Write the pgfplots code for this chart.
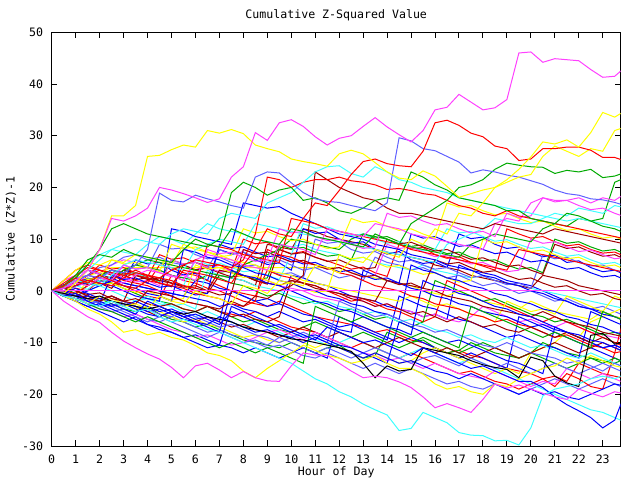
\documentclass[border=0pt]{standalone}
\usepackage{pgfplots}
\pgfplotsset{compat=1.18}
\usepackage{fontspec}
\setmainfont{DejaVu Sans Mono}
\definecolor{gred}{RGB}{255,0,0}
\definecolor{ggreen}{RGB}{0,170,0}
\definecolor{gblue}{RGB}{0,0,255}
\definecolor{gmag}{RGB}{255,64,255}
\definecolor{gcyan}{RGB}{64,255,255}
\definecolor{gyel}{RGB}{255,255,0}
\definecolor{gdred}{RGB}{160,0,0}
\definecolor{gslate}{RGB}{96,96,255}
\definecolor{gblack}{RGB}{0,0,0}
\newcommand\gfont{\fontsize{11.6bp}{13bp}\selectfont}
% one series: y values every half hour from 0 h
\newcommand\ser[2]{%
  \gdef\pts{}%
  \foreach \v [count=\i from 0] in {#2}{%
    \pgfmathsetmacro\xx{\i*0.5}%
    \xdef\pts{\pts(\xx,\v)}%
  }%
  \edef\cmd{\noexpand\addplot[\unexpanded{#1}] coordinates {\pts};}%
  \cmd
}
\begin{document}
\begin{tikzpicture}
\path[use as bounding box] (-51.7bp,-34bp) rectangle (588.3bp,446bp);
\begin{axis}[
  at={(0,0)}, anchor=south west, scale only axis,
  width=569bp, height=413.7bp,
  xmin=0, xmax=23.75, ymin=-30, ymax=50,
  xtick={0,1,...,23}, ytick={-30,-20,...,50},
  yticklabels={-30,-20,-10,0,10,20,30,40,50},
  /pgf/number format/assume math mode=true,
  tick align=inside, major tick length=5.7bp,
  tick style={black, line width=1bp},
  axis line style={black, line width=1bp},
  tick label style={font=\gfont},
  xticklabel style={inner sep=0pt, anchor=north, yshift=-8.8bp},
  yticklabel style={inner sep=0pt, anchor=east, xshift=-8.4bp},
  every axis plot/.append style={line width=1bp, mark=none, line join=miter},
]
\ser{gred}{0,1,0.5,0,2,1.5,1,0,-1,-1.5,3,2,1.5,0.5,0,-1,-2,-2.5,-3,-2,-3,-4,-5,-5.5,-6,-6.5,-7,-8,-7.5,-8.5,-9.5,-10,-11,-12,-11.5,-12.5,-13,-14,-15,-15.5,-16,-17,-16.5,-17.5,-14,-15,-16,-16.5,-17}
\ser{ggreen}{0,-0.5,-1,-2,-1.5,-2.5,-3.5,-4,-3,-4.5,-5.5,-6,-7,-6.5,-7.5,-8.5,-9.5,-10,-10.5,-11,-10,-11,-12,-11,-10.5,-12,-13,-12.5,-8,-9,-10,-9.5,-11,-12,-11.5,-10,-11,-12,-12.5,-13,-12,-10,-11,-12,-12.5,-13,-13.5,-14,-13}
\ser{gblue}{0,0.5,1,2,3,2.5,1.5,1,0.5,0,-0.5,-1,2,1.5,0.5,0,-1,-2,-1.5,-2.5,3,2.5,1.5,1,0,-1,-1.5,-2,-3,-3.5,-4,-5,-4.5,-5.5,5,4,3.5,3,2,1.5,1,0,-1,-2,-3,-3.5,-4,-5,-5.5}
\ser{gmag}{0,2,3,4,3.5,5,6,5.5,4.5,4,3,2.5,4,5,4.5,4,3,2.5,2,1,0.5,0,-1,-1.5,-2,-1,-2,-3,-2.5,-3.5,-4,-5,-4.5,-5.5,-6,-5,-3,-4,-5,-6,-5.5,-6.5,-7,-6,-7,-8,-8.5,-9,-9.5}
\ser{gcyan}{0,1,3,5,7,8,7.5,7,9,10.5,10,9,11,13,12,11.5,11,10,9.5,9,8.5,9,8,7.5,7,6,6.5,5.5,5,4.5,4,5,4,3.5,3,2.5,3,2,1.5,1,0.5,0,-0.5,-1,-1.5,-2,-2.5,-3,-3.5}
\ser{gyel}{0,0.5,1.5,3,3.5,4.5,4.5,4.5,4.5,4.5,4.5,4.5,4.5,4.5,4.5,4.5,4.5,4.5,4.5,4.5,4.5,4.5,4.5,4.5,4.5,3.5,3,2.5,2,1.5,1,0,-0.5,-1,0,-1,-2,-2.5,-3,-3.5,-2,-3,-4,-4.5,-5,-5.5,-4,-5,-5.5}
\ser{gdred}{0,1,2,1.5,3,2.5,4,3.5,3,2,1.5,1,0,-0.5,3,2.5,2,1,9,8.5,8,12,11.5,10.5,10,9.5,9,8,7.5,7,6.5,6,5,4.5,4,3,2.5,2,1.5,1,0.5,3,2.5,2,1,0.5,0,-0.5,-1}
\ser{gslate}{0,-0.5,-1.5,-2,-3,-4,-3.5,-4.5,-5.5,-6,-5,-6,-7,-8,-7.5,-8.5,-9,-10,-11,-10.5,-11.5,-12.5,-13,-12,-13,-14,-15,-14,-15,-16,-15,-16,-17,-18,-17.5,-18.5,-19,-18,-19,-20,-19,-18,-17,-18,-19,-18,-17,-18,-19}
\ser{gblue}{0,-1,-2,-3,-4,-5,-6,-5,-6.5,-7.5,-8,-9,-8.5,-9.5,-10.5,-11,-12,-11,-12,-13,-12,-11,-12,-13,-5,-6,-7,-8,-9,-10,-9,-10,-11,-12,-13,-12,-13,-14,-15,-5,-6,-7,-8,-9,-10,-11,-12,-13,-14}
\ser{gblue}{0,1.2,2,4,3.2,3.5,2.1,6,5.2,5.5,4,3.1,3.4,2,8,7.2,7.5,6,5.1,5.4,4,12,11.1,11.4,10,9.2,9.5,8,7.1,7.6,6,5.3,5.6,4.5,11,10.1,10.4,9,8.2,8.5,7.5,6.6,6.9,5.5,5.8,4.5,3.7,4,3}
\ser{gred}{0,0.8,1.5,3,5,4.2,4.5,3.5,2.7,7,6.1,6.4,5.5,4.8,5,4,10,9.1,9.4,8,7.2,7.6,6.5,5.8,5,4.2,4.6,3.5,2.8,9,8.1,8.4,7,6.3,6.6,5.5,4.8,4,12,11,10.2,10.5,9.5,8.7,9,8,7.3,7.5,6.5}
\ser{gred}{0,0.5,1,3,4,3,2,1.5,1,0,-1,-2,-2.5,-3,-4,-4.5,-5,-4,-5,-6,-7,-7.5,-8,-9,-10,-11,-10,-11,-12,-13,-12,-13,-14,-15,-16,-15.5,-16.5,-17.5,-18,-19,-18,-17,-18.5,-16,-17,-18.5,-19,-12,-3}
\ser{ggreen}{0,0.5,-0.5,1,2,1.5,0.5,-0.5,-1.5,-2,-2.5,-3.5,-4,-3,-4,-5,-6,-5.5,-6.5,-7.5,-8,-7,-6,-7,-8,-9,-8,-9,-10,-11,-10,-9,-10,-11,-12,-11,-10,-11,-12,-13,-12,-13,-14,-15,-14,-13,-14,-13,-14}
\ser{gslate}{0,-0.7,1,2.5,1.8,2.1,5,4.2,4.5,9,8.1,8.3,7,6.2,6.5,5.5,4.7,5,4,3.2,3.5,2.5,10,9.2,9.5,8,7.3,7.6,6.5,5.6,5.9,5,4.2,4.5,3.5,2.6,2.9,2,1.2,1.5,0.5,7,6.2,6.5,5.5,4.8,5,4,3.5}
\ser{gcyan}{0,-0.5,-1,0,1,0,-1,-2,-1.5,-2.5,-3,-4,-5,-4,-5,-6,-7,-6,-7,-8,-9,-8.5,-9.5,-10.5,-10,-9,-10,-11,-12,-13,-12,-11,-12,-13,-14,-13,-14,-15,-16,-17,-18,-19,-20,-21,-22,-23,-23.5,-24.5,-25.5}
\ser{ggreen}{0,1,3,2.2,2.5,4,3.2,3.5,2.5,1.8,6,5.2,5.5,4.5,3.6,3.9,3,2.2,2.5,9,8.1,8.4,7.5,6.7,7,6,11,10.2,10.5,9.5,8.6,8.9,8,7.2,7.5,6.5,5.8,6,5,4.2,4.5,3.5,10,9.2,9.5,8.5,7.7,8,7}
\ser{gslate}{0,1,2.5,3,4.5,5,6.5,7,6,6.5,5.5,5,4,4.5,8,7,7.5,6.5,5.5,6,5,4,4.5,3.5,2.5,3,2,6.5,5.5,5,4,4.5,3.5,2.5,3,2,1,1.5,0.5,-0.5,0,-1,-2,-1.5,-2.5,-3.5,-3,-4,-5}
\ser{gyel}{0,1,0,-1,-2,-1.5,-2.5,-3.5,-3,-4,-5,-6,-5.5,-6.5,-7,-8,-9,-8.5,-9.5,-10,-9,-10,-11,-10,-11,-12,-13,-12,-13,-14,-13.5,-12,-11,-12,-13,-14,-15,-16,-15,-16,-12,-11,-10,-8,-9,-6,-5,-4,-3}
\ser{gcyan}{0,0.5,1,0.3,2,4,3.2,3.5,2.5,1.7,2,1,6,5.1,5.4,4.5,3.7,4,3,2.2,7,13,12.1,12.4,11.5,10.7,11,10,9.2,9.5,8.5,7.7,8,12,11.2,11.5,10.5,9.6,9.9,9,8.2,8.5,7.5,6.7,7,6,5.2,5.5,4.5}
\ser{gdred}{0,-0.5,-1,-1.5,-2.5,-3,-2,-3,-4,-5,-4,-5,-6,-5,-6,-7,-6.5,-7.5,-8,-9,-8,-7,-8,-9,-8,-9,-10,-11,-10,-9,-10,-11,-12,-11,-12,-13,-12,-11,-12,-13,-12,-11,-10,-11,-12,-11,-10,-11,-12}
\ser{gblue}{0,0,-1,-1.5,-2,-1,-2,-3,-4,-3.5,-4.5,-5.5,-6,-7,-8,0,-1,-2,-3,-2.5,-3.5,-4.5,-5,-6,-7,-6.5,-7.5,-8.5,-9.5,-1,-2,-3,-3.5,-4.5,-5.5,-6,-7,-8,-9,-8.5,-9.5,-10.5,-11,-12,-13,-4,-5,-6,-7}
\ser{gdred}{0,1,2,1.2,1.5,0.5,3,2.2,2.5,1.5,0.8,5,4.1,4.4,3.5,2.7,3,2,1.3,8,7.1,7.4,6.5,5.7,6,5,4.2,4.5,10,9.1,9.4,8.5,7.7,8,7,6.1,6.4,5.5,4.7,5,4,3.2,9,8.2,8.5,7.5,6.7,7,6}
\ser{gred}{0,2,4,5,4,3.5,3,2,1.5,5,4.5,3.5,3,2,1,0,-0.5,-1,4,3,2.5,1.5,1,0,-1,-2,-1.5,-2.5,-3.5,-4,-5,-6,-5,2,1,0,-1,-2,-3,-4,-5,-6,-5,-6,-7,-8,-9,-10,-11}
\ser{ggreen}{0,1,1.5,3,2.5,2,4,5,4.5,4,3,2.5,2,3,2.5,1.5,1,0,-1,-0.5,-1.5,-2.5,-2,-3,-4,-3.5,-4.5,-5.5,-5,-6,-7,-6,2,1,0,-1,-2,-1.5,-2.5,-3.5,-4.5,-5,-6,-5.5,-6.5,-7.5,-8.5,-8,-9}
\ser{gmag}{0,-1,-1.5,-2.5,-3.5,-4,-5,-4.5,-5.5,-6.5,-7.5,-8,-9,-8.5,-9.5,-10.5,-10,-9,-8,-7.5,-8.5,-9.5,-8,-9,-10,-11,-12,-12.5,-13.5,-13,-14,-15,-14,-15,-16,-16.5,-17,-15.5,-16.5,-17.5,-18.5,-17.5,-18,-15,-16,-17,-16,-17,-18}
\ser{gmag}{0,1,2,4,3.2,3.5,2.5,1.7,2,1,6,5.2,5.5,4.5,3.7,4,8,7.2,7.5,6.5,5.6,5.9,5,4.2,4.5,3.5,2.7,3,9,8.2,8.5,7.5,6.6,6.9,6,5.2,5.5,4.5,3.7,4,10,9.2,9.5,8.5,7.6,7.9,7,6.2,6.5}
\ser{gcyan}{0,-1,-0.5,-1.5,-2.5,-2,-3,-2,-1,-2,-3,-2.5,-3.5,4,3,2.5,2,1,0.5,0,-1,-1.5,-2.5,-2,-3,-3.5,-4.5,-4,-5,-6,-5.5,-6.5,-7.5,-8,-9,-8.5,-9.5,-10,-9,-10,-11,-10.5,-11.5,-12.5,-13,-12,-13,-14,-15}
\ser{gyel}{0,2,4,5.5,5,6,5.5,7,6.5,6,5,9,8,7.5,7,6,5.5,5,4,3.5,3,2,1.5,1,0.5,0,-0.5,-1,-1.5,-2,-1,-2,-3,-2.5,-3.5,-4.5,-5,-6,-2,-3,-4,-3.5,-4.5,-1,-2,-3,-4,-1,-2}
\ser{gblue}{0,-1,-1.5,-0.8,-2.5,3,2.2,2.5,1.5,0.7,1,0,-0.8,-0.5,9,8.2,8.5,7.5,6.6,6.9,6,5.2,5.5,4.5,3.7,4,3,2.2,2.5,1.5,11,10.2,10.5,9.5,8.6,8.9,8,7.2,7.5,6.5,5.6,5.9,5,4.2,4.5,3.5,2.7,3,2}
\ser{gdred}{0,0.5,1.5,2,3,4,3.5,3,2.5,2,1.5,1,0.5,0,4,3.5,3,2,1.5,1,2,1.5,0.5,0,-0.5,-1,-1.5,-2,2,1.5,1,0.5,0,-1,-1.5,-2,-3,-3.5,-4,-4.5,-5,-4,-5,-6,-6.5,-7,-8,-8.5,-9}
\ser{gslate}{0,-0.5,-1.5,-2.5,-2,-3,-4,-5,-6,-5,-6,-7,-8,-9,-8,-9,-10,-9.5,-10.5,-9,-10,-11,-12,-11,-12,-13,-12,-11,-12,-13,-14,-13,-12.5,-13.5,-14.5,-13,-14,-15,-14,-15,-16,-15,-14,-15,-16,-15,-14,-15,-16}
\ser{gyel}{0,-0.5,-1,2,1.2,1.5,0.5,-0.3,0,-1,-1.8,-1.5,5,4.2,4.5,3.5,2.6,2.9,2,1.2,1.5,0.5,-0.3,0,7,6.2,6.5,5.5,4.6,4.9,4,3.2,3.5,2.5,1.7,2,10,9.2,9.5,8.5,7.6,7.9,7,6.2,6.5,5.5,4.7,5,4}
\ser{gblue}{0,0.5,1,1.5,1,2,1.5,1,0.5,0,-0.5,-1,-1.5,-2,-3,-2.5,-3.5,-4,-5,-4,-5,-6,-5.5,-6.5,-7.5,-8,4,3,2,1.5,0.5,0,-1,-1.5,-2.5,-3,-4,-4.5,-5,-6,-7,-6.5,-7.5,-8,-9,-10,-11,-10.5,-11.5}
\ser{gred}{0,0,-0.5,1,2.5,2,3.5,3,2.5,1.5,1,0.5,-0.5,-1,-1.5,-2.5,-3,-2,8,7,6.5,5.5,5,4.5,3.5,3,2,1,0.5,0,-1,-1.5,-2.5,-3,-3.5,-4.5,-5,-6,-5.5,-6.5,-7,-8,-9,-8.5,-9.5,-10.5,-11,-12,-11.5}
\ser{gdred}{0,0.5,0,-0.7,-0.4,-1.5,-2,3,2.2,2.5,1.5,0.7,1,0,-0.8,-0.5,8,7.2,7.5,6.5,5.6,5.9,5,4.2,4.5,3.5,2.7,3,2,1.2,1.5,0.5,6,5.2,5.5,4.5,3.6,3.9,3,2.2,2.5,1.5,0.7,1,0,-0.8,-0.5,-1.5,-2}
\ser{ggreen}{0,1,2,1.5,3,4,3.5,5,6,5.5,5,4.5,4,3.5,3,2.5,5,6,7,8,10,9.5,9,8.5,8,10,11,10.5,10,9,8.5,8,7.5,7,6.5,9,10,11,10.5,10,9.5,12,13,12.5,14,13.5,14,21,22}
\ser{gblue}{0,-0.5,-1,0,1,2,1,0.5,-0.5,-1,-2,8,7.5,6.5,6,5,4.5,3.5,3,2,1.5,0.5,0,-1,-1.5,-2.5,-3,-4,-4.5,-5.5,5,4,3.5,2.5,2,1,0.5,-0.5,-1,-2,-2.5,-3.5,-4,-5,-5.5,-6.5,-7,-8,-8.5}
\ser{gslate}{0,-1,-2,-1.5,-2.5,-3,-2,-3,-3.5,-4.5,-5,-4,-5,-6,-7,-6.5,-7.5,-8.5,-9,-10,-9,-8,-9,-10,-2,-3,-4,-5,-4.5,-5.5,-6.5,-7,-8,-7.5,-8.5,-9.5,-10.5,-11,-10,-11,-12,-12.5,-13,-14,-13.5,-14.5,-15.5,-14,-15}
\ser{gblue}{0,1,3,2,1.5,1,0,-1,-1.5,-2,12,11.5,10.5,10,9.5,9,17,16.5,16,16.3,15,14,13,12,11,10.5,10,9,8.5,8,7,6.5,6,5,4.5,4,3,2.5,1.5,1,0,-0.5,-1.5,-2,-3,-3.5,-4.5,-5,-6}
\ser{gyel}{0,1,3,2.2,2.5,6,5.2,5.5,4.5,3.7,9,8.2,8.5,7.5,6.6,6.9,12,11.2,11.5,10.5,9.7,10,9,8.2,8.5,14,13.2,13.5,12.5,11.7,12,11,10.2,17,16.2,16.5,15.5,14.7,15,14,13.2,13.5,12.5,11.7,12,11,10.2,10.5,9.5}
\ser{gred}{0,1.5,3,4.5,4,3.5,3,4,3,2.5,2,1,0.5,9,8.5,8,7,6.5,6,5.5,14,13.5,13,12,11.5,11,10.5,10,9.5,9,8,7.5,7,6.5,6,5.5,5,4.5,4,8,7.5,7,6.5,6,5.5,5,4.5,4,3.5}
\ser{gcyan}{0,0.5,2,1.5,1,3,5,6,5.5,5,4.5,4,8,9,10,9.5,9,13,12.5,12,11.5,11,10.5,10,9.5,9,8.5,8,7.5,7,6.5,6,5.5,9,10,11,12,14,13.5,13,13,14,15,14.5,16,15.5,15,16.5,16}
\ser{gblue}{0,-1,-2,-3,-2.5,-3.5,-4.5,-5.5,-6.5,-7,-8,-9,-10,-11,-10.5,-3,-4,-5,-6,-7,-8,-9,-8.5,-9.5,-10.5,-11,-12,-13,-14,-6,-7,-8,-9,-10,-9.5,-10.5,-11.5,-12.5,-13.5,-14,-15,-16,-7,-8,-9,-10,-11,-10.5,-11.5}
\ser{gdred}{0,0.5,0,-1,-1.5,-1,-2,-1.5,-2.5,-3,-2.5,-3.5,-4,-3,-4,-5,-4.5,-5.5,-6,-5,2,1.5,1,0,-0.5,-1.5,-2,-3,-2.5,-3.5,-4.5,-4,-5,-6,-5,-6,-7,-6.5,-7.5,-8,-7,-8,-9,-8,-9,-10,-9,-10,-10.5}
\ser{ggreen}{0,-1,-1.5,-2.5,-3.5,-4,-5,-6,-5,-6,-7,-8,-9,-10,-11,-10,-11,-12,-11,-12,-13,-14,-3,-4,-5,-6,-5,-6,-7,-8,-9,-8,-9,-10,-11,-3,-4,-5,-6,-7,-8,-9,-8,-9,-10,-11,-4,-5,-6}
\ser{gblue}{0,-0.5,0.5,-0.5,-1.5,-2,-3,-2,-3,-4,-3.5,-4.5,-5.5,-5,-6,4,3,2.5,1.5,1,0,-1,-2,-2.5,-3.5,-4,-5,-6,-7,-7.5,-8.5,2,1,0.5,-0.5,-1,-2,-3,-3.5,-4.5,-5,-6,-7,-8,-8.5,-9.5,-10,-11,-12}
\ser{gmag}{0,0.5,1.5,1,2.5,2,5,4.2,4.5,3.5,2.7,3,2,8,7.2,7.5,6.5,5.7,6,12,11.2,11.5,10.5,9.7,10,9,8.2,8.5,15,14.2,14.5,13.5,12.7,13,12,11.2,11.5,10.5,15,14.2,14.5,18,17.2,17.5,16.5,15.7,16,15,14.2}
\ser{gmag}{0,0.5,1.5,3,2.5,2,1.5,3,4,3.5,3,2,6,7,6.5,6,5,4.5,4,9,8.5,8,7,12,11.5,11,10.5,13,12.5,12,11,10.5,10,9.5,9,8.5,8,13,14,13.5,17,18,17.5,17.5,18,17,18,17.5,19}
\ser{gblue}{0,-1,-1.5,-1,-2,-3,-2.5,-3.5,-4.5,-5,-4,-5,-6,-6.5,-5,-6,-7,-8,-7.5,-8.5,-9,-10,-9,-10,-11,-12,-13,-12,-13,-14,-13.5,-14.5,-15.5,-16,-17,-16,-17,-18,-19,-20,-19,-20,-19.5,-20.5,-21,-20,-19,-18,-18.5}
\ser{gmag}{0,0,0,0,0,0,0,0,0,0,0,0,0,0,0,0,0,0,0,0,0,0,0,0,0,0,0,0,0,0,0,0,0,0,0,0,0,0,0,0,0,0,0,0,0,0,0,0,0}
% prominent series
\ser{gdred}{0,-1,-0.5,-1.5,-2,-1,-2,-2.5,0,-0.5,-1,-2,-2.5,-3,-3.5,-2,-3,-1,-1.5,0,1,3,23,21.5,20,19,18,17.5,16,15,15,14.5,14,13.5,13,12.5,12,13,12.5,12,11.5,11,12,11.5,11,10.5,10,9.5,9}
\ser{gred}{0,0.5,1,2,1.5,1,2.5,3.5,3,2.5,4,5,6,5.5,5,4.5,6,11,22,21.5,20,21,21.5,21.5,22,21.3,21,20.5,19.6,19.8,19.4,18.8,18.5,17.5,16.5,16,15,14.5,15.5,14.5,14,13.5,13,12.5,12,11.5,11,10.5,10}
\ser{gcyan}{0,1,2,4,6,8,9,10,9.5,9,11,12,11.5,11,14,15,14.5,14,17,18,19,21,23,24,24.2,22.7,22,24,23,21.5,21,20,19.5,19,18,17.5,17,16.5,16,15.5,15,14.5,14,13.5,14,13.5,13,12.5,12}
\ser{ggreen}{0,1,2.5,5,8,12,13,12,11,10.5,10,9.5,9,8.5,10,19,21,20,18.5,19.5,20,17.5,18,17,15.5,15,16,17.5,18,17.5,23,22,20.5,19.5,18,17.5,17,16.5,15.5,15.5,14,13.5,13,15,14.5,13.5,12.5,12,11}
\ser{ggreen}{0,1,3,6,7,6.5,8,7,6.5,6,5.5,8,10,9,8.5,12,11,10,9.5,9,12,11.5,10.5,10,9.5,9,8.5,11,10,9,13,14.5,16,17.5,20,20.5,21.5,23.5,24.7,24.3,24,23.9,22.7,23.3,23,23.5,21.9,22.2,23}
\ser{gslate}{0,0.5,2,3,2.5,4,3.5,5,8,18.9,17.5,17.2,18.5,17.8,17.2,16.5,16,22,23,22.8,20.9,19,17.8,17.3,17.1,16.5,16,15.5,17,29.6,29,27.5,27.1,26,24.9,22.8,23.4,23,22.4,22,21.3,20.6,19.5,18.8,18.5,17.8,17.6,17.1,16.4}
\ser{gyel}{0,-1,-1.5,-2.5,-1,-2,-3,-2.5,-3.5,-1,-2,-2.5,0,-1,-1.5,-2.5,1,0.5,-0.5,2,1.5,1,5,4.5,3.5,6,5.5,8,7.2,6.5,10,9,12,11,15,14.5,17,20,21,22,22.5,26,28,27,26,27.5,27,31,31.8}
\ser{gred}{0,1,2.5,1.5,3,2,1,0.5,2,1.5,1,4,3.5,3,2.2,1.5,5,8,12,11,10.5,14,17,16.5,19.4,22.5,25,25.5,24.6,24.2,24,27,32.5,33,32,30.5,29.8,28,27.5,25.2,25.5,27.5,27.5,27.8,27.8,27.2,25.8,25.8,25}
\ser{gyel}{0,-0.5,1.5,4,8,14.5,14.5,16.5,26,26.2,27.3,28.2,27.8,31,30.5,31.2,30.4,28.2,27.5,26.9,25.5,25,24.6,24.1,26.5,27.2,26.5,24.8,23,21.8,21.5,23.2,22.2,20.2,18.1,18.8,19.5,20,21.5,23.5,25.9,28.8,28.4,29.2,27.8,30.6,34.5,33.6,35}
\ser{gmag}{0,0.5,2,4,8,14,13.5,14.5,16,20,19.5,18.8,18,17.1,17.8,22,24,30.6,29.1,32.5,33.1,31.8,29.8,28.2,29.5,30,31.8,33.5,31.7,30.2,28.8,31,35,35.5,38,36.5,35,35.4,37,46,46.2,44.2,44.9,44.7,44.5,42.8,41.3,41.5,43.5}
\ser{gyel}{0,-1,-2,-3.5,-4.5,-6,-8,-7.5,-8.5,-8,-9,-9.5,-10.6,-12,-12.5,-13.5,-15.5,-16.8,-15,-13.5,-12,-10.5,-11.5,-12.5,-13,-14,-13.5,-12.5,-14,-15,-15,-16.1,-18,-19,-18.5,-19.5,-20,-18,-18.5,-17,-16,-15,-14.5,-13,-14,-12.5,-13.5,-14.5,-15}
\ser{gblack}{0,-0.5,-1,-1.5,-1,-2,-2.5,-3,-3.5,-3,-4,-4.5,-4,-5,-5.5,-6,-7,-7.5,-8,-8.5,-9.3,-9.5,-10,-10.5,-11,-11.7,-14,-16.8,-14.5,-15.5,-15.2,-11,-11.5,-12,-12.5,-13.5,-14.3,-14.8,-15.2,-16.8,-12.8,-13.5,-16.5,-17.8,-18.5,-8.6,-8.2,-10.3,-9.8}
\ser{gblue}{0,-1,-0.5,-2,-3,-2.5,-3.5,-4.5,-2,-3,-4,-5,-4.5,-5.5,-6.5,-4,-5,-6,-7,-6.5,-7.5,-8.5,-9.5,-7,-8,-9,-10,-9.5,-10.5,-11.5,-12.5,-11,-12,-13,-14,-15,-14.5,-15.5,-16.5,-17.5,-17.5,-18.7,-20.5,-22,-23.2,-24.5,-26.5,-25,-19}
\ser{gcyan}{0,-1,-1.5,-2.5,-3,-2,-3,-4,-3.5,-5,-6,-5.5,-6.5,-7.5,-8,-9,-10,-11,-12,-13,-14,-15.5,-17,-18,-19.5,-20.5,-21.9,-23,-24,-27,-26.6,-23.5,-24.5,-25.5,-27.4,-27.9,-28,-29,-28.9,-29.8,-26.5,-20.3,-19,-18.5,-18,-17,-16.5,-17,-16}
\ser{gmag}{0,-2,-3.5,-5,-6.1,-8,-9.7,-11,-12.2,-13.2,-14.8,-16.8,-14.5,-14,-15.3,-16.8,-15.6,-16.8,-17.4,-17.5,-14.5,-12,-12.4,-12.5,-14,-15.5,-16.8,-16.5,-16.8,-17.6,-18.7,-20.5,-22.6,-21.8,-22.6,-23.5,-21,-18,-18.8,-18.2,-19,-19.8,-20.5,-21,-19,-19.8,-20.5,-19.5,-20}
\end{axis}
\node[font=\gfont, inner sep=0pt] at (284.5bp,431bp) {Cumulative Z-Squared Value};
\node[font=\gfont, inner sep=0pt] at (284.5bp,-26bp) {Hour of Day};
\node[font=\gfont, inner sep=0pt, rotate=90] at (-40.7bp,207bp) {Cumulative (Z*Z)-1};
\end{tikzpicture}
\end{document}
